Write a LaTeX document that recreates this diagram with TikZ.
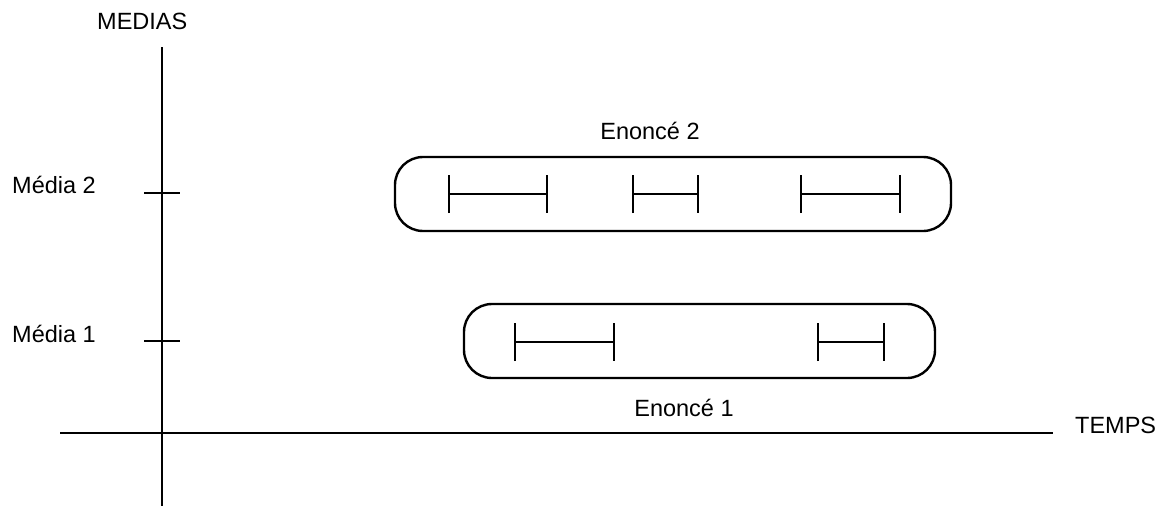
\documentclass[tikz,border=0pt]{standalone}
\usepackage{fontspec}
\setmainfont{Liberation Sans}
\usetikzlibrary{arrows.meta}

\begin{document}
\begin{tikzpicture}[x=1pt,y=-1pt,
	axe/.style={line width=2.8pt},
	enonce/.style={draw,line width=2.4pt,rounded corners=28pt,inner sep=0pt},
	barre/.style={line width=2.2pt,{Bar[width=38pt,line width=2.2pt]}-{Bar[width=38pt,line width=2.2pt]}},
	lbl/.style={font=\fontsize{23.5}{28}\selectfont,inner sep=0pt}]
			\useasboundingbox (0,0) rectangle (1160,506);
			% axes
			\coordinate (Y0) at (162,47);
			\coordinate (Y1) at (162,506);
			\coordinate (X0) at (60,433);
			\coordinate (X1) at (1053,433);
			\draw[axe] (Y0) -- (Y1);
			\draw[axe] (X0) -- (X1);
			\node[lbl,anchor=base west] (M) at (97,30) {MEDIAS};
			\node[lbl,anchor=base west] (T) at (1075,433) {TEMPS};
			% graduations
			\coordinate (A1) at (144,341);
			\coordinate (B1) at (180,341);
			\coordinate (A2) at (144,193);
			\coordinate (B2) at (180,193);
			\draw[axe] (A1) -- (B1);
			\draw[axe] (A2) -- (B2);
			\node[lbl,anchor=base west] (M1) at (12,342) {Média 1};
			\node[lbl,anchor=base west] (M2) at (12,193) {Média 2};
			% enonces
			\node[enonce,minimum width=556pt,minimum height=74pt] (E2) at (673,194) {};
			\node[enonce,minimum width=471pt,minimum height=74pt] (E1) at (699.5,341) {};
			\node[lbl,anchor=base] (L2) at (650,139) {Enoncé 2};
			\node[lbl,anchor=base] (L1) at (684,416) {Enoncé 1};
			% intervalles
			\coordinate (C) at (448,194);
			\coordinate (D) at (548,194);
			\coordinate (E) at (632,194);
			\coordinate (F) at (699,194);
			\coordinate (G) at (800,194);
			\coordinate (H) at (901,194);
			\coordinate (I) at (514,342);
			\coordinate (J) at (615,342);
			\coordinate (K) at (817,342);
			\coordinate (L) at (885,342);
			\draw[barre] (C) -- (D);
			\draw[barre] (E) -- (F);
			\draw[barre] (G) -- (H);
			\draw[barre] (I) -- (J);
			\draw[barre] (K) -- (L);
			\end{tikzpicture}
\end{document}
